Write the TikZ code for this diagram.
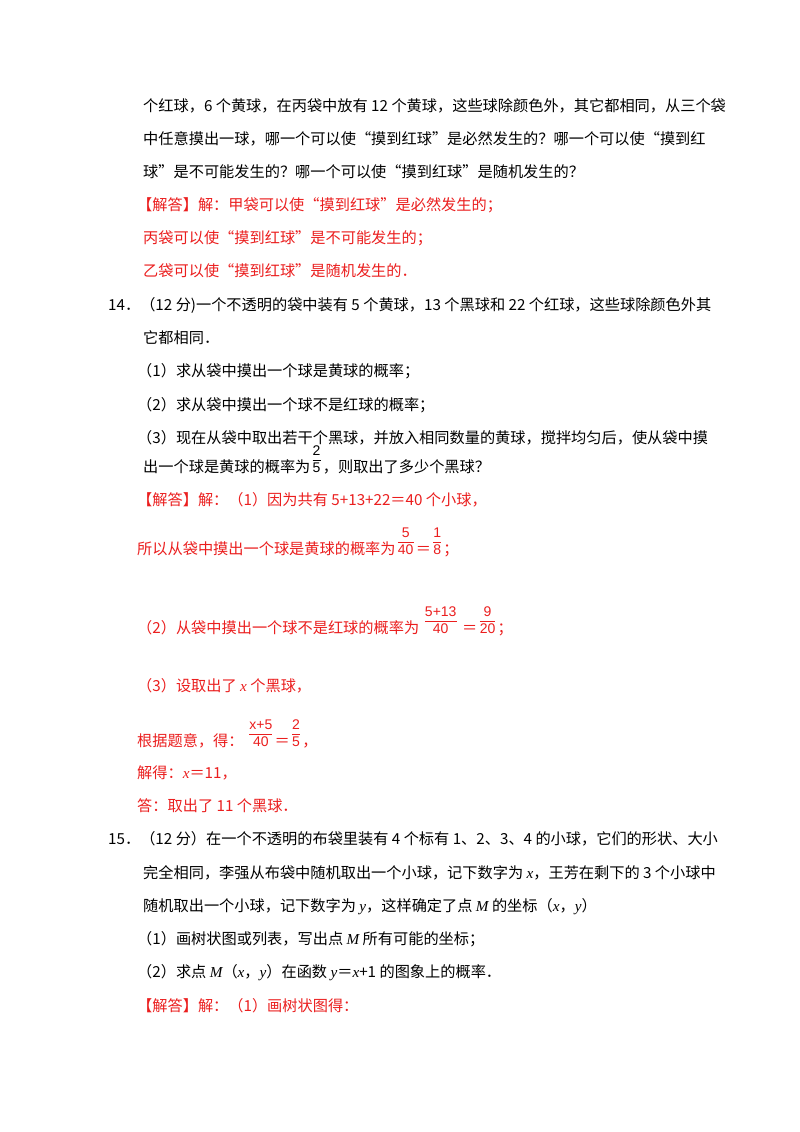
\documentclass[tikz,border=0pt]{standalone}
\usepackage{fontspec}
\setmainfont{Noto Sans CJK SC}
\newfontfamily\lat{Liberation Serif}
\newfontfamily\ari{Liberation Sans}
\definecolor{ans}{RGB}{235,30,30}
\newcommand{\fr}[2]{{\ari\fontsize{14}{15}\selectfont\renewcommand\arraystretch{1.08}\setlength\arrayrulewidth{0.7pt}\,\begin{tabular}[b]{@{}c@{}}#1\\\hline #2\end{tabular}\,}}
\newcommand{\vi}[1]{{\lat\itshape #1}}
\begin{document}
\begin{tikzpicture}[x=1pt,y=1pt,
  ln/.style={anchor=base west,inner sep=0pt,font=\fontsize{15.2}{18}\selectfont},
  rd/.style={ln,text=ans}]
\useasboundingbox (0,0) rectangle (800,-1132);
\fill[white] (0,0) rectangle (800,-1132);
\node[ln] (l1) at (143,-111) {个红球，6 个黄球，在丙袋中放有 12 个黄球，这些球除颜色外，其它都相同，从三个袋};
\node[ln] (l2) at (143,-144) {中任意摸出一球，哪一个可以使“摸到红球”是必然发生的？哪一个可以使“摸到红};
\node[ln] (l3) at (143,-177) {球”是不可能发生的？哪一个可以使“摸到红球”是随机发生的？};
\node[rd] (l4) at (137,-210) {【解答】解：甲袋可以使“摸到红球”是必然发生的；};
\node[rd] (l5) at (143,-243) {丙袋可以使“摸到红球”是不可能发生的；};
\node[rd] (l6) at (143,-276) {乙袋可以使“摸到红球”是随机发生的．};
\node[ln] (l7) at (108,-310) {14．（12 分)一个不透明的袋中装有 5 个黄球，13 个黑球和 22 个红球，这些球除颜色外其};
\node[ln] (l8) at (143,-343) {它都相同．};
\node[ln] (l9) at (137,-376) {（1）求从袋中摸出一个球是黄球的概率；};
\node[ln] (l10) at (137,-410) {（2）求从袋中摸出一个球不是红球的概率；};
\node[ln] (l11) at (137,-443) {（3）现在从袋中取出若干个黑球，并放入相同数量的黄球，搅拌均匀后，使从袋中摸};
\node[ln] (l12) at (143,-472) {出一个球是黄球的概率为\fr{2}{5}，则取出了多少个黑球？};
\node[rd] (l13) at (137,-505) {【解答】解：（1）因为共有 5+13+22＝40 个小球，};
\node[rd] (l14) at (137,-554) {所以从袋中摸出一个球是黄球的概率为\fr{5}{40}＝\fr{1}{8}；};
\node[rd] (l15) at (137,-633) {（2）从袋中摸出一个球不是红球的概率为 \fr{5+13}{40} ＝\fr{9}{20}；};
\node[rd] (l16) at (137,-691) {（3）设取出了 \vi{x} 个黑球，};
\node[rd] (l17) at (137,-746) {根据题意，得： \fr{x+5}{40}＝\fr{2}{5}，};
\node[rd] (l18) at (137,-778) {解得：\vi{x}＝11，};
\node[rd] (l19) at (137,-811) {答：取出了 11 个黑球．};
\node[ln] (l20) at (108,-844) {15．（12 分）在一个不透明的布袋里装有 4 个标有 1、2、3、4 的小球，它们的形状、大小};
\node[ln] (l21) at (143,-878) {完全相同，李强从布袋中随机取出一个小球，记下数字为 \vi{x}，王芳在剩下的 3 个小球中};
\node[ln] (l22) at (143,-911) {随机取出一个小球，记下数字为 \vi{y}，这样确定了点 \vi{M} 的坐标（\vi{x}，\vi{y}）};
\node[ln] (l23) at (137,-944) {（1）画树状图或列表，写出点 \vi{M} 所有可能的坐标；};
\node[ln] (l24) at (137,-977) {（2）求点 \vi{M}（\vi{x}，\vi{y}）在函数 \vi{y}＝\vi{x}+1 的图象上的概率．};
\node[rd] (l25) at (137,-1011) {【解答】解：（1）画树状图得：};
\end{tikzpicture}
\end{document}
